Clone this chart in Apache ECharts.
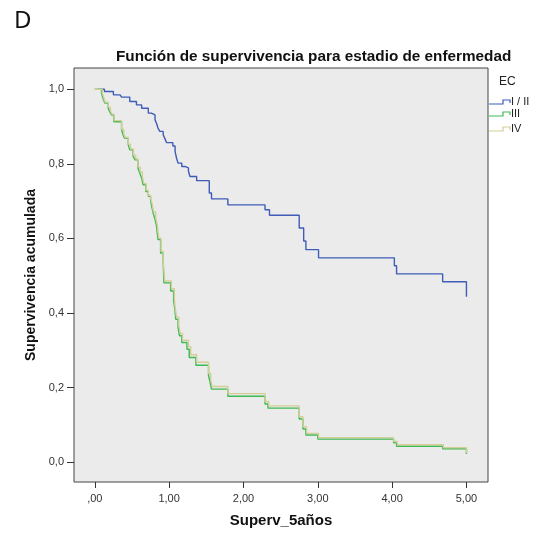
<!DOCTYPE html>
<html>
<head>
<meta charset="utf-8">
<script src="https://cdn.jsdelivr.net/npm/echarts@6/dist/echarts.min.js"></script>
<style>
  html, body { margin: 0; padding: 0; background: #fff; }
  #chart { width: 545px; height: 533px; }
</style>
</head>
<body>
<div id="chart"></div>
<script>
// Curvas de Kaplan-Meier (tiempo en años, supervivencia acumulada)
const stageI_t = [0.05, 0.13, 0.25, 0.34, 0.36, 0.47, 0.56, 0.63, 0.72, 0.76, 0.81, 0.83, 0.85, 0.875, 0.92, 0.94, 0.965, 1.05, 1.08, 1.10, 1.12, 1.17, 1.21, 1.26, 1.28, 1.37, 1.54, 1.57, 1.79, 2.29, 2.35, 2.75, 2.81, 2.84, 3.01, 4.03, 4.06, 4.68, 5.00];
const stageI_s = [1.000, 0.994, 0.985, 0.982, 0.979, 0.967, 0.958, 0.949, 0.936, 0.931, 0.918, 0.909, 0.896, 0.887, 0.878, 0.869, 0.857, 0.848, 0.833, 0.815, 0.802, 0.793, 0.789, 0.780, 0.766, 0.755, 0.722, 0.706, 0.690, 0.677, 0.662, 0.628, 0.593, 0.570, 0.548, 0.527, 0.505, 0.484, 0.444];

const stageIII_t = [0, 0.06, 0.09, 0.11, 0.135, 0.18, 0.20, 0.225, 0.256, 0.36, 0.38, 0.40, 0.45, 0.47, 0.515, 0.54, 0.58, 0.605, 0.63, 0.65, 0.686, 0.72, 0.75, 0.76, 0.785, 0.81, 0.83, 0.85, 0.885, 0.92, 0.93, 1.02, 1.06, 1.077, 1.09, 1.12, 1.14, 1.17, 1.24, 1.27, 1.36, 1.53, 1.55, 1.57, 1.79, 2.29, 2.33, 2.75, 2.80, 2.84, 3.00, 4.02, 4.06, 4.68, 5.00];
const stageIII_s = [1.000, 1.000, 0.989, 0.976, 0.963, 0.949, 0.940, 0.931, 0.913, 0.891, 0.878, 0.869, 0.851, 0.838, 0.820, 0.811, 0.789, 0.775, 0.762, 0.744, 0.726, 0.713, 0.704, 0.691, 0.668, 0.651, 0.633, 0.597, 0.561, 0.535, 0.481, 0.459, 0.432, 0.410, 0.383, 0.361, 0.339, 0.321, 0.303, 0.281, 0.260, 0.232, 0.215, 0.196, 0.177, 0.156, 0.145, 0.116, 0.089, 0.073, 0.062, 0.052, 0.043, 0.036, 0.022];

const stageIV_t = [0, 0.07, 0.10, 0.12, 0.14, 0.18, 0.21, 0.23, 0.26, 0.36, 0.39, 0.41, 0.45, 0.48, 0.52, 0.55, 0.58, 0.61, 0.64, 0.66, 0.69, 0.72, 0.75, 0.77, 0.79, 0.82, 0.84, 0.86, 0.89, 0.92, 0.94, 1.03, 1.07, 1.08, 1.10, 1.13, 1.15, 1.18, 1.26, 1.29, 1.37, 1.53, 1.56, 1.58, 1.79, 2.29, 2.34, 2.75, 2.80, 2.85, 3.01, 4.02, 4.07, 4.69, 5.00];
const stageIV_s = [1.000, 1.000, 0.990, 0.978, 0.965, 0.952, 0.942, 0.933, 0.916, 0.893, 0.880, 0.871, 0.853, 0.840, 0.823, 0.813, 0.792, 0.778, 0.765, 0.747, 0.729, 0.716, 0.707, 0.694, 0.671, 0.655, 0.637, 0.601, 0.566, 0.540, 0.486, 0.465, 0.438, 0.416, 0.389, 0.367, 0.345, 0.327, 0.310, 0.288, 0.268, 0.238, 0.221, 0.203, 0.184, 0.163, 0.151, 0.122, 0.095, 0.077, 0.066, 0.056, 0.047, 0.039, 0.025];

const groupNames = ['I / II', 'III', 'IV'];
const groupColors = ['#3E5CB8', '#3DBA55', '#D3CE97'];
const xTicks = [0, 1, 2, 3, 4, 5];
const yTicks = [0, 0.2, 0.4, 0.6, 0.8, 1.0];

const FONT = '"Liberation Sans", Arial, sans-serif';

const pairs = (t, s) => t.map((v, i) => [v, s[i]]);
const seriesData = [pairs(stageI_t, stageI_s), pairs(stageIII_t, stageIII_s), pairs(stageIV_t, stageIV_s)];

// formato numérico estilo SPSS en español: ",00", "1,00", "0,8"
const fmtX = v => (v === 0 ? ',00' : v.toFixed(2).replace('.', ','));
const fmtY = v => v.toFixed(1).replace('.', ',');

const chart = echarts.init(document.getElementById('chart'));

// leyenda dibujada a mano (icono escalonado como en SPSS)
const legendItems = [];
const legendY = [102, 114, 129];
groupNames.forEach((name, i) => {
  const y = legendY[i];
  legendItems.push({
    type: 'polyline',
    shape: { points: [[489, y + 2], [503, y + 2], [503, y - 2], [510, y - 2], [510, y + 1]] },
    style: { stroke: groupColors[i], lineWidth: 1.2, fill: null }
  });
  legendItems.push({
    type: 'text',
    x: 511, y: y,
    style: { text: name, fontSize: 11, fontFamily: FONT, fill: '#222', verticalAlign: 'middle' }
  });
});

chart.setOption({
  animation: false,
  title: [
    {
      text: 'D', left: 9, top: 4,
      textStyle: { fontSize: 24, fontWeight: 'normal', fontFamily: '"Noto Sans", sans-serif', color: '#111' }
    },
    {
      text: 'Función de supervivencia para estadio de enfermedad', left: 111, top: 44,
      textStyle: { fontSize: 15.3, fontWeight: 'bold', fontFamily: FONT, color: '#111' }
    }
  ],
  grid: {
    left: 74, right: 57, top: 68, bottom: 50,
    show: true, backgroundColor: '#EBEBEB', borderColor: '#444', borderWidth: 1
  },
  xAxis: {
    type: 'value', min: -0.28, max: 5.29,
    name: 'Superv_5años', nameLocation: 'middle', nameGap: 31,
    nameTextStyle: { fontSize: 15, fontWeight: 'bold', fontFamily: FONT, color: '#111' },
    axisLine: { show: false, onZero: false },
    axisTick: { show: true, customValues: xTicks, length: 6, lineStyle: { color: '#333' } },
    axisLabel: { customValues: xTicks, formatter: fmtX, fontSize: 11, fontFamily: FONT, color: '#333', margin: 11 },
    splitLine: { show: false }
  },
  yAxis: {
    type: 'value', min: -0.053, max: 1.057,
    name: 'Supervivencia acumulada', nameLocation: 'middle', nameGap: 30,
    nameTextStyle: { fontSize: 14, fontWeight: 'bold', fontFamily: FONT, color: '#111' },
    axisLine: { show: false, onZero: false },
    axisTick: { show: true, customValues: yTicks, length: 7, lineStyle: { color: '#333' } },
    axisLabel: { customValues: yTicks, formatter: fmtY, fontSize: 11, fontFamily: FONT, color: '#333', margin: 10 },
    splitLine: { show: false }
  },
  series: seriesData.map((d, i) => ({
    name: groupNames[i],
    type: 'line',
    step: 'end',
    data: d,
    showSymbol: false,
    lineStyle: { color: groupColors[i], width: 1.4 },
    itemStyle: { color: groupColors[i] }
  })),
  graphic: [
    {
      type: 'text', x: 499, y: 82,
      style: { text: 'EC', fontSize: 12, fontFamily: FONT, fill: '#222', verticalAlign: 'middle' }
    }
  ].concat(legendItems)
});
</script>
</body>
</html>
